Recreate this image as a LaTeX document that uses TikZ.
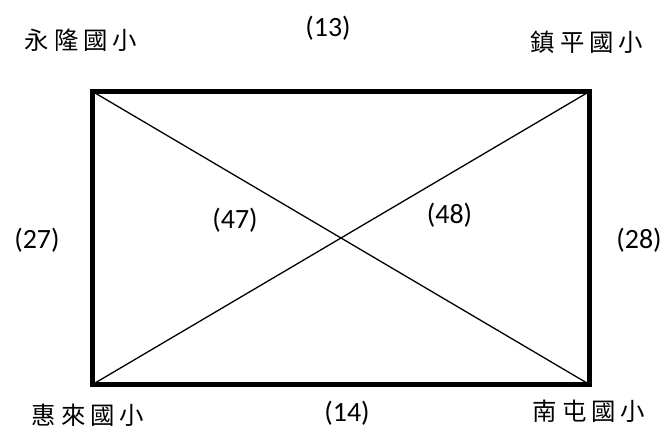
\documentclass[tikz,border=0pt]{standalone}
\usepackage{fontspec}
\setmainfont{Carlito}
\newfontfamily\cjk{Noto Sans CJK TC}
\newcommand{\cs}{\hspace{5bp}}
\begin{document}
\begin{tikzpicture}[x=1bp,y=1bp,
  lbl/.style={font=\fontsize{28}{31}\selectfont, inner sep=0pt},
  cj/.style={font=\cjk\fontsize{24.5}{27}\selectfont, inner sep=0pt},
  edge/.style={line width=1.3bp}]
\useasboundingbox (0,0) rectangle (667,437);
\coordinate (tl) at (92.5,345.5);
\coordinate (tr) at (589.5,345.5);
\coordinate (bl) at (92.5,52.5);
\coordinate (br) at (589.5,52.5);
\draw[edge] (tl) -- (br);
\draw[edge] (bl) -- (tr);
\draw[line width=5bp] (tl) rectangle (br);
\node[cj] (yl) at (81,397) {永\cs 隆\cs 國\cs 小};
\node[cj] (zp) at (587,395) {鎮\cs 平\cs 國\cs 小};
\node[cj] (hl) at (88,22) {惠\cs 來\cs 國\cs 小};
\node[cj] (nt) at (589,26) {南\cs 屯\cs 國\cs 小};
\node[lbl] (n13) at (328,409) {(13)};
\node[lbl] (n14) at (347,24) {(14)};
\node[lbl] (n27) at (37,197) {(27)};
\node[lbl] (n28) at (639,197) {(28)};
\node[lbl] (n47) at (235,217) {(47)};
\node[lbl] (n48) at (449.5,222) {(48)};
\end{tikzpicture}
\end{document}
